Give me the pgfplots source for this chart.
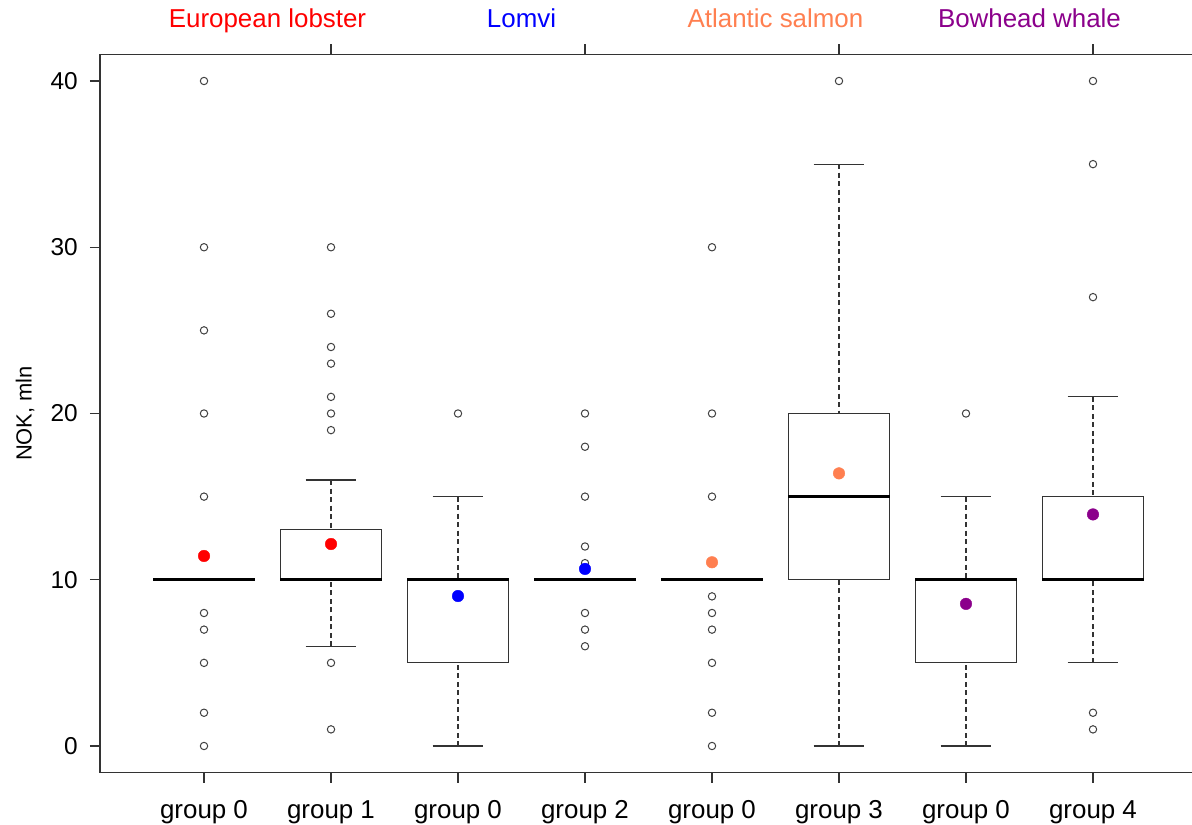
\documentclass[border=0pt]{standalone}
\usepackage{pgfplots}
\pgfplotsset{compat=1.18}
\usepgfplotslibrary{statistics}
\usepackage{fontspec}
\setmainfont{Liberation Sans}
\definecolor{lobster}{HTML}{FF0000}
\definecolor{lomvi}{HTML}{0000FF}
\definecolor{salmonc}{HTML}{FF7F50}
\definecolor{whale}{HTML}{8B008B}
\definecolor{outl}{HTML}{404040}
\definecolor{axc}{HTML}{333333}
\pgfplotsset{
  rbox/.style={axc, line width=1.2bp, solid,
    boxplot/draw direction=y,
    boxplot/box extend=0.8, boxplot/whisker extend=0.4,
    boxplot/every median/.style={line width=3bp, black},
    boxplot/draw/lower whisker/.code={%
      \draw[dash pattern=on 5bp off 3.5bp] (boxplot box cs:\pgfplotsboxplotvalue{lower whisker},0.5) -- (boxplot box cs:\pgfplotsboxplotvalue{lower quartile},0.5);
      \draw (boxplot whisker cs:\pgfplotsboxplotvalue{lower whisker},0) -- (boxplot whisker cs:\pgfplotsboxplotvalue{lower whisker},1);
    },
    boxplot/draw/upper whisker/.code={%
      \draw[dash pattern=on 5bp off 3.5bp] (boxplot box cs:\pgfplotsboxplotvalue{upper whisker},0.5) -- (boxplot box cs:\pgfplotsboxplotvalue{upper quartile},0.5);
      \draw (boxplot whisker cs:\pgfplotsboxplotvalue{upper whisker},0) -- (boxplot whisker cs:\pgfplotsboxplotvalue{upper whisker},1);
    },
  },
  omark/.style={only marks, mark=o, outl, mark size=3.7bp, mark options={line width=1bp}},
  mmark/.style={only marks, mark=*, mark size=5.8bp},
}
\begin{document}
\begin{tikzpicture}
\begin{axis}[name=ax,
  scale only axis, width=1097bp, height=718.2bp,
  xmin=0.181, xmax=8.819, ymin=-1.6, ymax=41.6,
  clip=false,
  axis line style={line width=1.2bp, axc},
  tick style={line width=1.2bp, axc},
  tick align=outside, major tick length=10bp,
  xtick={1,2,3,4,5,6,7,8},
  xticklabels={group 0, group 1, group 0, group 2, group 0, group 3, group 0, group 4},
  xtick pos=left, ytick pos=left,
  ytick={0,10,20,30,40},
  /pgf/number format/assume math mode=true,
  yticklabel style={font=\fontsize{24.5}{28}\selectfont, inner sep=0pt, xshift=-12bp},
  xticklabel style={font=\fontsize{26}{30}\selectfont, inner sep=0pt, anchor=base, yshift=-36bp},
  ylabel={NOK, mln},
  every axis y label/.style={at={(rel axis cs:0,0.5)}, xshift=-75bp, rotate=90, anchor=center, font=\fontsize{22}{26}\selectfont},
]
\addplot[rbox, boxplot prepared={draw position=1, median=10, lower quartile=10, upper quartile=10, lower whisker=10, upper whisker=10}] coordinates {};
\addplot[rbox, boxplot prepared={draw position=2, median=10, lower quartile=10, upper quartile=13, lower whisker=6, upper whisker=16}] coordinates {};
\addplot[rbox, boxplot prepared={draw position=3, median=10, lower quartile=5, upper quartile=10, lower whisker=0, upper whisker=15}] coordinates {};
\addplot[rbox, boxplot prepared={draw position=4, median=10, lower quartile=10, upper quartile=10, lower whisker=10, upper whisker=10}] coordinates {};
\addplot[rbox, boxplot prepared={draw position=5, median=10, lower quartile=10, upper quartile=10, lower whisker=10, upper whisker=10}] coordinates {};
\addplot[rbox, boxplot prepared={draw position=6, median=15, lower quartile=10, upper quartile=20, lower whisker=0, upper whisker=35}] coordinates {};
\addplot[rbox, boxplot prepared={draw position=7, median=10, lower quartile=5, upper quartile=10, lower whisker=0, upper whisker=15}] coordinates {};
\addplot[rbox, boxplot prepared={draw position=8, median=10, lower quartile=10, upper quartile=15, lower whisker=5, upper whisker=21}] coordinates {};
% outliers
\addplot[omark] coordinates {
 (1,40) (1,30) (1,25) (1,20) (1,15) (1,8) (1,7) (1,5) (1,2) (1,0)
 (2,30) (2,26) (2,24) (2,23) (2,21) (2,20) (2,19) (2,5) (2,1)
 (3,20)
 (4,20) (4,18) (4,15) (4,12) (4,11) (4,8) (4,7) (4,6)
 (5,30) (5,20) (5,15) (5,9) (5,8) (5,7) (5,5) (5,2) (5,0)
 (6,40)
 (7,20)
 (8,40) (8,35) (8,27) (8,2) (8,1)
};
% means
\addplot[mmark, lobster] coordinates {(1,11.43) (2,12.15)};
\addplot[mmark, lomvi] coordinates {(3,9.02) (4,10.65)};
\addplot[mmark, salmonc] coordinates {(5,11.05) (6,16.4)};
\addplot[mmark, whale] coordinates {(7,8.55) (8,13.93)};
% top labels
\node[lobster, anchor=base, font=\fontsize{26}{30}\selectfont] at (axis cs:1.5,41.6) [yshift=26.4bp] {European lobster};
\node[lomvi, anchor=base, font=\fontsize{26}{30}\selectfont] at (axis cs:3.5,41.6) [yshift=26.4bp] {Lomvi};
\node[salmonc, anchor=base, font=\fontsize{26}{30}\selectfont] at (axis cs:5.5,41.6) [yshift=26.4bp] {Atlantic salmon};
\node[whale, anchor=base, font=\fontsize{26}{30}\selectfont] at (axis cs:7.5,41.6) [yshift=26.4bp] {Bowhead whale};
\end{axis}
\begin{axis}[
  scale only axis, width=1097bp, height=718.2bp,
  xmin=0.181, xmax=8.819, ymin=-1.6, ymax=41.6,
  axis x line*=top, axis y line=none,
  axis line style={line width=1.2bp, axc, -},
  tick style={line width=1.2bp, axc},
  tick align=outside, major tick length=10bp,
  xtick={2,4,6,8}, xticklabels={},
]
\end{axis}
\pgfresetboundingbox
\path ([xshift=-100bp,yshift=-51.4bp]ax.south west) rectangle ([xshift=-5bp,yshift=54.4bp]ax.north east);
\end{tikzpicture}
\end{document}
